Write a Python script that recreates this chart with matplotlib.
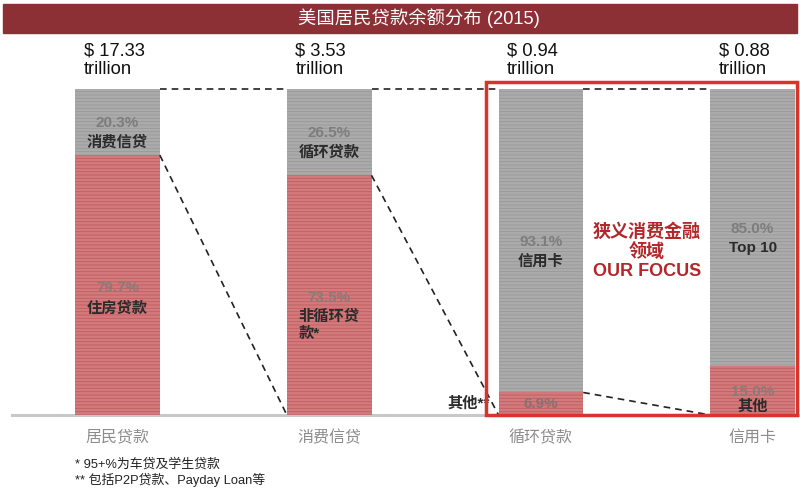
import matplotlib.pyplot as plt
from matplotlib.patches import Rectangle

plt.rcParams['font.family'] = ['Liberation Sans', 'Noto Sans CJK SC', 'DejaVu Sans']
plt.rcParams['hatch.linewidth'] = 0.6

# 数据
categories = ['居民贷款', '消费信贷', '循环贷款', '信用卡']
totals = [17.33, 3.53, 0.94, 0.88]
bottom_share = [79.7, 73.5, 6.9, 15.0]   # 红色部分
top_share = [20.3, 26.5, 93.1, 85.0]     # 灰色部分
bottom_names = ['住房贷款', '非循环贷\n款*', '其他', '其他']
top_names = ['消费信贷', '循环贷款', '信用卡', 'Top 10']

RED = '#d27a7c'
RED_LINE = '#c25c5f'
GRAY = '#ababab'
GRAY_LINE = '#989898'
W = 0.4

fig = plt.figure(figsize=(8, 4.96), dpi=100)
ax = fig.add_axes([0, 0, 1, 1])
ax.set_xlim(-0.555, 3.224)
ax.set_ylim(-24.85, 127.3)
ax.axis('off')

x = list(range(len(categories)))

# 底线
ax.plot([-0.5, 3.224], [0, 0], color='#c8c8c8', lw=2.2, zorder=1)

ax.bar(x, bottom_share, width=W, color=RED, edgecolor=RED_LINE, hatch='-----',
       linewidth=0, zorder=2)
ax.bar(x, top_share, bottom=bottom_share, width=W, color=GRAY, edgecolor=GRAY_LINE,
       hatch='-----', linewidth=0, zorder=2)

# 虚线连接
for i in range(len(x) - 1):
    x0 = x[i] + W / 2
    x1 = x[i + 1] - W / 2
    ax.plot([x0, x1], [100, 100], color='#222222', lw=1.2, dashes=(4, 3), zorder=3)
    ax.plot([x0, x1], [bottom_share[i], 0], color='#222222', lw=1.2, dashes=(4, 3), zorder=3)

# 总额
for i, v in enumerate(totals):
    ax.text(x[i] - W / 2 + 0.04, 108.9, f'$ {v:.2f}\ntrillion', ha='left', va='center',
            fontsize=13.2, color='#111111', linespacing=1.15)

# 灰色部分标签
for i in x:
    c = bottom_share[i] + top_share[i] / 2
    ax.text(i, c - 0.3, f'{top_share[i]:.1f}%', ha='center', va='center', fontsize=11,
            fontweight='bold', color='#7d7d7d', zorder=4)
    ax.text(i, c - 6.3, top_names[i], ha='center', va='center', fontsize=11,
            fontweight='bold', color='#2b2b2b', zorder=4)

# 红色部分标签
for i in x:
    c = bottom_share[i] / 2
    if i == 2:
        ax.text(i, c, f'{bottom_share[i]:.1f}%', ha='center', va='center', fontsize=11,
                fontweight='bold', color='#8a7070', zorder=4)
        ax.text(i - W / 2 - 0.04, c, bottom_names[i] + '**', ha='right', va='center',
                fontsize=11, fontweight='bold', color='#2b2b2b', zorder=4)
        continue
    small = bottom_share[i] < 30
    ax.text(i, c - (0.4 if small else 0.8), f'{bottom_share[i]:.1f}%', ha='center',
            va='center', fontsize=11, fontweight='bold', color='#8a7a7a', zorder=4)
    if '\n' in bottom_names[i]:
        ax.text(i, c - 4.3, bottom_names[i], ha='center', va='top', fontsize=11,
                fontweight='bold', color='#2b2b2b', multialignment='left',
                linespacing=1.25, zorder=4)
    else:
        ax.text(i, c - (5.0 if small else 7.3), bottom_names[i], ha='center', va='center',
                fontsize=11, fontweight='bold', color='#2b2b2b', zorder=6)

# 分类标签
for i, name in enumerate(categories):
    ax.text(i, -6.8, name, ha='center', va='center', fontsize=11.5, color='#8c8c8c')

# 红框
ax.add_patch(Rectangle((2 - 0.259, 0), 1.469, 102.1, fill=False, edgecolor='#d9342b',
                       lw=2.5, zorder=5))
ax.text(2.5, 50, '狭义消费金融\n领域\nOUR FOCUS', ha='center', va='center', fontsize=13,
        fontweight='bold', color='#b3272b', linespacing=1.15, zorder=5)

# 标题
fig.patches.append(Rectangle((3 / 800, 1 - 33 / 496), 794 / 800, 29 / 496,
                             transform=fig.transFigure, color='#8d3036', zorder=0))
fig.text(419 / 800, 1 - 18.5 / 496, '美国居民贷款余额分布 (2015)', ha='center', va='center',
         fontsize=13.2, color='white')

# 注释
fig.text(75 / 800, 1 - 464 / 496, '* 95+%为车贷及学生贷款', ha='left', va='center',
         fontsize=9.3, color='#222222')
fig.text(75 / 800, 1 - 480 / 496, '** 包括P2P贷款、Payday Loan等', ha='left', va='center',
         fontsize=9.3, color='#222222')

fig.savefig('out.png', dpi=100)
